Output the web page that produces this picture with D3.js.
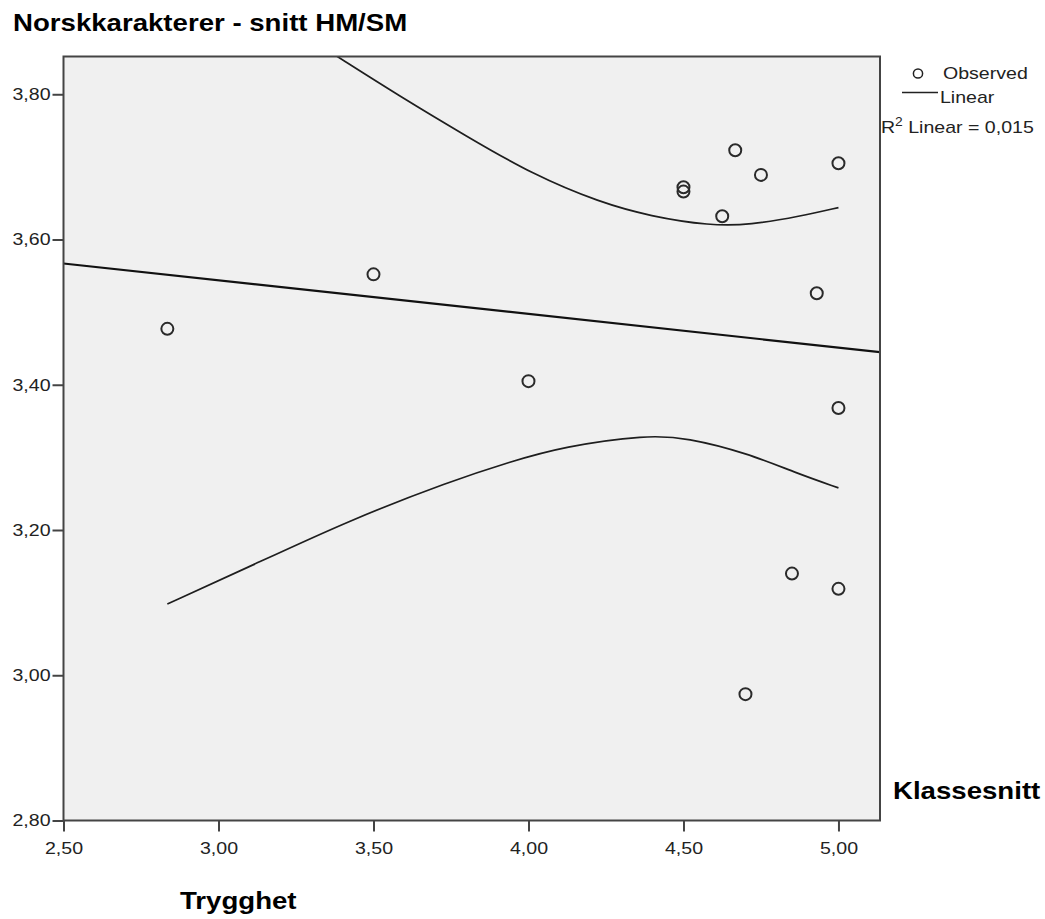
<!DOCTYPE html>
<html>
<head>
<meta charset="utf-8">
<script src="https://cdn.jsdelivr.net/npm/d3@7"></script>
<style>
  html, body { margin: 0; padding: 0; background: #fff; }
  svg { display: block; font-family: Arial, "Liberation Sans", sans-serif; }
</style>
</head>
<body>
<svg id="chart" width="1045" height="919"></svg>
<script>
// Observed values: Trygghet (x) against Norskkarakterer - snitt HM/SM (y)
const obsX = [2.835, 3.50, 4.00, 4.50, 4.50, 4.625, 4.667, 4.75, 5.00, 4.93, 5.00, 4.85, 5.00, 4.70];
const obsY = [3.477, 3.552, 3.405, 3.672, 3.666, 3.632, 3.723, 3.689, 3.705, 3.526, 3.368, 3.140, 3.119, 2.974];

// Linear fit, at both ends of the x range
const fitX = [2.50, 5.134];
const fitY = [3.567, 3.445];

// Upper and lower band curves around the fit
const upperX = [3.376, 3.586, 3.801, 4.016, 4.231, 4.393, 4.586, 4.715, 4.877, 5.00];
const upperY = [3.854, 3.797, 3.742, 3.689, 3.651, 3.632, 3.619, 3.620, 3.632, 3.644];
const lowerX = [2.835, 3.102, 3.425, 3.747, 3.941, 4.113, 4.382, 4.511, 4.705, 4.866, 5.00];
const lowerY = [3.098, 3.150, 3.214, 3.267, 3.294, 3.315, 3.331, 3.327, 3.306, 3.278, 3.258];

const xTicks = [2.5, 3.0, 3.5, 4.0, 4.5, 5.0];
const yTicks = [2.8, 3.0, 3.2, 3.4, 3.6, 3.8];
const rSquared = "0,015";

const svg = d3.select("#chart");
const L = 63.5, R = 880, T = 56.5, B = 820.5;
const x = d3.scaleLinear().domain([2.5, 5.134]).range([L, R]);
const y = d3.scaleLinear().domain([2.8, 3.852]).range([B, T]);
const fmt = v => d3.format(".2f")(v).replace(".", ",");
const STRETCH = 1.15;

// widen text horizontally to the wide glyph proportions of the chart
function stretch(sel) {
  sel.each(function () {
    const len = this.getComputedTextLength();
    d3.select(this).attr("textLength", len * STRETCH).attr("lengthAdjust", "spacingAndGlyphs");
  });
}

// plot frame
svg.append("defs").append("clipPath").attr("id", "plotclip")
  .append("rect").attr("x", L).attr("y", T).attr("width", R - L).attr("height", B - T);
svg.append("rect").attr("x", L).attr("y", T).attr("width", R - L).attr("height", B - T)
  .attr("fill", "#f0f0f0");

// axes
const gx = svg.append("g").attr("transform", `translate(0,${B})`)
  .call(d3.axisBottom(x).tickValues(xTicks).tickFormat(fmt).tickSize(11).tickPadding(10).tickSizeOuter(0));
const gy = svg.append("g").attr("transform", `translate(${L},0)`)
  .call(d3.axisLeft(y).tickValues(yTicks).tickFormat(fmt).tickSize(11).tickPadding(2).tickSizeOuter(0));
[gx, gy].forEach(g => {
  g.select(".domain").remove();
  g.selectAll(".tick line").attr("stroke", "#444").attr("stroke-width", 2);
  g.selectAll(".tick text").attr("fill", "#222").style("font-size", "17px");
  stretch(g.selectAll(".tick text"));
});

const plot = svg.append("g").attr("clip-path", "url(#plotclip)");

// band curves
const curve = d3.line().x(d => x(d[0])).y(d => y(d[1])).curve(d3.curveBasis);
plot.append("path").datum(d3.zip(upperX, upperY)).attr("d", curve)
  .attr("fill", "none").attr("stroke", "#1e1e1e").attr("stroke-width", 1.7);
plot.append("path").datum(d3.zip(lowerX, lowerY)).attr("d", curve)
  .attr("fill", "none").attr("stroke", "#1e1e1e").attr("stroke-width", 1.7);

// fit line
plot.append("path").datum(d3.zip(fitX, fitY)).attr("d", d3.line().x(d => x(d[0])).y(d => y(d[1])))
  .attr("fill", "none").attr("stroke", "#111").attr("stroke-width", 2.2);

// observed points
plot.selectAll("circle.obs").data(d3.zip(obsX, obsY)).join("circle")
  .attr("class", "obs")
  .attr("cx", d => x(d[0])).attr("cy", d => y(d[1])).attr("r", 6)
  .attr("fill", "none").attr("stroke", "#2a2a2a").attr("stroke-width", 2);

// frame border on top
svg.append("rect").attr("x", L).attr("y", T).attr("width", R - L).attr("height", B - T)
  .attr("fill", "none").attr("stroke", "#444").attr("stroke-width", 2);

// titles
const bold = (tx, ty, s) => svg.append("text").attr("x", tx).attr("y", ty).text(s)
  .attr("fill", "#000").style("font-size", "24px").style("font-weight", "bold");
stretch(bold(13, 31, "Norskkarakterer - snitt HM/SM"));
stretch(bold(893, 799, "Klassesnitt"));
stretch(bold(180, 909, "Trygghet"));

// legend
svg.append("circle").attr("cx", 918).attr("cy", 73.5).attr("r", 4.6)
  .attr("fill", "none").attr("stroke", "#222").attr("stroke-width", 1.5);
svg.append("line").attr("x1", 902).attr("x2", 938).attr("y1", 92.5).attr("y2", 92.5)
  .attr("stroke", "#222").attr("stroke-width", 1.6);
const leg = (tx, ty, s) => svg.append("text").attr("x", tx).attr("y", ty).text(s)
  .attr("fill", "#222").style("font-size", "17px");
stretch(leg(943, 79, "Observed"));
stretch(leg(940, 103, "Linear"));
const r2 = svg.append("text").attr("x", 881).attr("y", 133).attr("fill", "#222").style("font-size", "17px");
r2.append("tspan").text("R");
r2.append("tspan").attr("dy", -7).style("font-size", "12px").text("2");
r2.append("tspan").attr("dy", 7).text(" Linear = " + rSquared);
stretch(r2);
</script>
</body>
</html>
